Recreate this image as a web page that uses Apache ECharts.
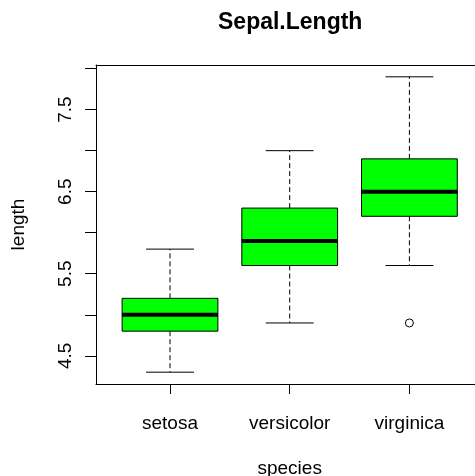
<!DOCTYPE html>
<html>
<head>
<meta charset="utf-8">
<script src="https://cdn.jsdelivr.net/npm/echarts@6/dist/echarts.min.js"></script>
<style>
  html, body { margin: 0; padding: 0; background: #fff; }
  #chart { width: 475px; height: 476px; }
</style>
</head>
<body>
<div id="chart"></div>
<script>
// iris Sepal.Length by species
const species = ['setosa', 'versicolor', 'virginica'];
// [min, q1, median, q3, max]
const setosaStats = [4.3, 4.8, 5.0, 5.2, 5.8];
const versicolorStats = [4.9, 5.6, 5.9, 6.3, 7.0];
const virginicaStats = [5.6, 6.2, 6.5, 6.9, 7.9];
const outliers = [[2, 4.9]];
const yTicks = [4.5, 5.0, 5.5, 6.0, 6.5, 7.0, 7.5, 8.0];
const yLabels = [4.5, 5.5, 6.5, 7.5];
const yMin = 4.156;
const yMax = 8.044;

const boxStats = [setosaStats, versicolorStats, virginicaStats];
const boxData = boxStats.map((s, i) => [i].concat(s));

const font = 'Liberation Sans, Arial, sans-serif';
const boxFrac = 0.8;

function renderBox(params, api) {
	const x = api.value(0);
	const band = api.size([1, 0])[0];
	const half = band * boxFrac / 2;
	const capHalf = half / 2;
	const pMin = api.coord([x, api.value(1)]);
	const pQ1 = api.coord([x, api.value(2)]);
	const pMed = api.coord([x, api.value(3)]);
	const pQ3 = api.coord([x, api.value(4)]);
	const pMax = api.coord([x, api.value(5)]);
	const cx = pMed[0];
	const dashed = { stroke: '#000', lineWidth: 1, lineDash: [5, 3] };
	const solid = { stroke: '#000', lineWidth: 1 };
	return {
		type: 'group',
		children: [
			{ type: 'line', shape: { x1: cx, y1: pQ3[1], x2: cx, y2: pMax[1] }, style: dashed },
			{ type: 'line', shape: { x1: cx, y1: pQ1[1], x2: cx, y2: pMin[1] }, style: dashed },
			{ type: 'line', shape: { x1: cx - capHalf, y1: pMax[1], x2: cx + capHalf, y2: pMax[1] }, style: solid },
			{ type: 'line', shape: { x1: cx - capHalf, y1: pMin[1], x2: cx + capHalf, y2: pMin[1] }, style: solid },
			{
				type: 'rect',
				shape: { x: cx - half, y: pQ3[1], width: half * 2, height: pQ1[1] - pQ3[1] },
				style: { fill: '#00ff00', stroke: '#000', lineWidth: 1 },
			},
			{ type: 'line', shape: { x1: cx - half, y1: pMed[1], x2: cx + half, y2: pMed[1] }, style: { stroke: '#000', lineWidth: 4 } },
		],
	};
}

const chart = echarts.init(document.getElementById('chart'));
chart.setOption({
	animation: false,
	backgroundColor: '#fff',
	title: {
		text: 'Sepal.Length',
		left: 213,
		top: 6,
		textStyle: { fontFamily: font, fontSize: 23, fontWeight: 'bold', color: '#000' },
	},
	grid: [
		{ left: 96, top: 65, width: 388, height: 319, containLabel: false, outerBoundsMode: 'none' },
		{ left: 110.15, top: 65, width: 359.1, height: 319, containLabel: false, outerBoundsMode: 'none' },
	],
	xAxis: [
		// frame lines (bottom and top) of the plot box
		{
			gridIndex: 0, type: 'value', min: 0, max: 1, position: 'bottom',
			axisLine: { show: true, onZero: false, lineStyle: { color: '#000' } },
			axisTick: { show: false }, axisLabel: { show: false }, splitLine: { show: false },
		},
		{
			gridIndex: 1,
			type: 'category',
			data: species,
			position: 'bottom',
			axisLine: { show: false },
			axisTick: { show: true, alignWithLabel: true, length: 10, lineStyle: { color: '#000' } },
			axisLabel: { fontFamily: font, fontSize: 19, color: '#000', margin: 30 },
			name: 'species',
			nameLocation: 'middle',
			nameGap: 75,
			nameTextStyle: { fontFamily: font, fontSize: 19, color: '#000' },
		},
		{
			gridIndex: 0, type: 'value', min: 0, max: 1, position: 'top',
			axisLine: { show: true, onZero: false, lineStyle: { color: '#000' } },
			axisTick: { show: false }, axisLabel: { show: false }, splitLine: { show: false },
		},
	],
	yAxis: [
		{
			gridIndex: 0,
			type: 'value',
			min: yMin,
			max: yMax,
			splitLine: { show: false },
			axisLine: { show: true, onZero: false, lineStyle: { color: '#000' } },
			axisTick: { show: true, length: 11, customValues: yTicks, lineStyle: { color: '#000' } },
			axisLabel: {
				customValues: yLabels,
				rotate: 90,
				margin: 21,
				fontFamily: font,
				fontSize: 19,
				color: '#000',
				formatter: v => v.toFixed(1),
			},
			name: 'length',
			nameLocation: 'middle',
			nameGap: 68,
			nameTextStyle: { fontFamily: font, fontSize: 19, color: '#000' },
		},
		{ gridIndex: 1, type: 'value', min: yMin, max: yMax, show: false },
	],
	series: [
		{
			type: 'custom',
			xAxisIndex: 1,
			yAxisIndex: 1,
			renderItem: renderBox,
			encode: { x: 0, y: [1, 2, 3, 4, 5] },
			data: boxData,
		},
		{
			type: 'scatter',
			xAxisIndex: 1,
			yAxisIndex: 1,
			symbol: 'circle',
			symbolSize: 8,
			itemStyle: { color: '#fff', borderColor: '#000', borderWidth: 1, opacity: 1 },
			data: outliers,
		},
	],
});
</script>
</body>
</html>
